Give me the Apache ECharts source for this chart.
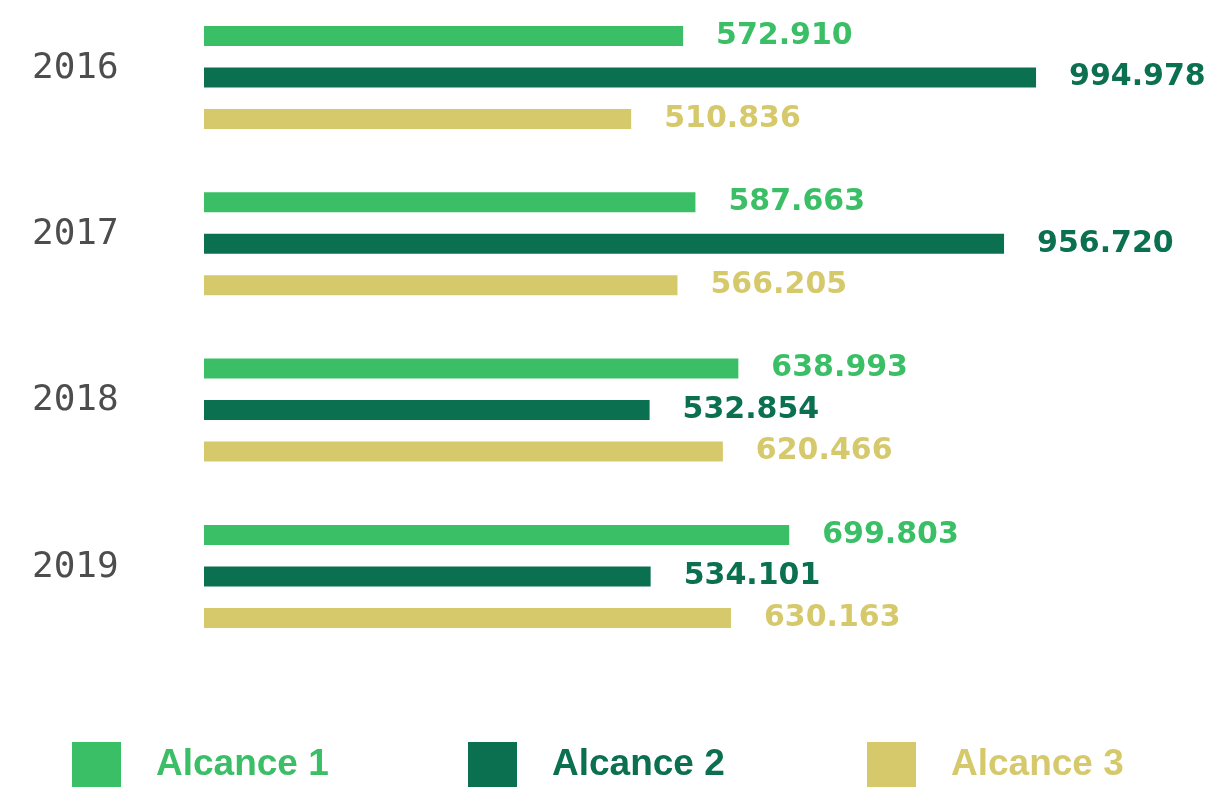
<!DOCTYPE html>
<html>
<head>
<meta charset="utf-8">
<script src="https://cdn.jsdelivr.net/npm/echarts@6/dist/echarts.min.js"></script>
<style>
  html, body { margin: 0; padding: 0; background: #fff; overflow: hidden; }
  /* el lienzo sube 10px para que la primera fila quede pegada arriba */
  #chart { position: relative; top: -10px; width: 1215px; height: 798px; }
</style>
</head>
<body>
<div id="chart"></div>
<script>
  // datos del gráfico
  const years = ["2016", "2017", "2018", "2019"];
  const seriesNames = ["Alcance 1", "Alcance 2", "Alcance 3"];
  const alcance1 = [572910, 587663, 638993, 699803];
  const alcance2 = [994978, 956720, 532854, 534101];
  const alcance3 = [510836, 566205, 620466, 630163];
  const colors = ["#3bbf66", "#0b7050", "#d6c96c"];

  // formato con punto como separador de miles
  const fmt = (v) => String(v).replace(/\B(?=(\d{3})+(?!\d))/g, ".");

  const chart = echarts.init(document.getElementById("chart"));

  const makeSeries = (name, data, color) => ({
    name: name,
    type: "bar",
    data: data,
    barWidth: 20,
    barGap: "107.5%",
    itemStyle: { color: color },
    label: {
      show: true,
      position: "right",
      distance: 33,
      color: color,
      fontFamily: "DejaVu Sans",
      fontWeight: "bold",
      fontSize: 30,
      formatter: (p) => fmt(p.value),
    },
  });

  const legendLefts = [72, 468, 867];

  chart.setOption({
    animation: false,
    grid: { left: 204, top: 4.3, width: 1003.5, height: 665.3 },
    xAxis: {
      type: "value",
      min: 0,
      max: 1200000,
      show: false,
    },
    yAxis: {
      type: "category",
      data: years,
      inverse: true,
      axisLine: { show: false },
      axisTick: { show: false },
      splitLine: { show: false },
      axisLabel: {
        align: "left",
        margin: 172,
        // segunda línea vacía para subir el año sobre el centro del grupo
        formatter: (v) => "{y|" + v + "}\n{s|}",
        rich: {
          y: {
            color: "#4d4d4d",
            fontFamily: "DejaVu Sans Mono",
            fontSize: 36,
            lineHeight: 36,
          },
          s: { height: 18, lineHeight: 18 },
        },
      },
    },
    legend: seriesNames.map((n, i) => ({
      data: [n],
      left: legendLefts[i],
      top: 752,
      padding: 0,
      icon: "rect",
      itemWidth: 49,
      itemHeight: 45,
      selectedMode: false,
      textStyle: {
        color: colors[i],
        fontFamily: "Liberation Sans",
        fontWeight: "bold",
        fontSize: 37,
        padding: [0, 0, 0, 30],
      },
    })),
    series: [
      makeSeries(seriesNames[0], alcance1, colors[0]),
      makeSeries(seriesNames[1], alcance2, colors[1]),
      makeSeries(seriesNames[2], alcance3, colors[2]),
    ],
  });
</script>
</body>
</html>
